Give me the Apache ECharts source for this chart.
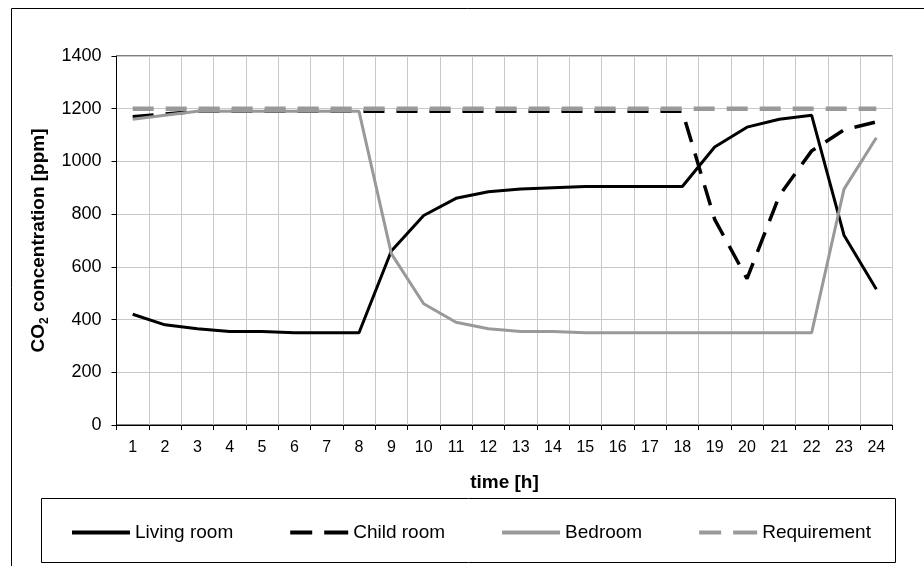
<!DOCTYPE html>
<html>
<head>
<meta charset="utf-8">
<script src="https://cdn.jsdelivr.net/npm/echarts@6/dist/echarts.min.js"></script>
<style>
html,body{margin:0;padding:0;background:#fff;}
#chart{width:924px;height:566px;}
</style>
</head>
<body>
<div id="chart"></div>
<script>
const hours = ['1','2','3','4','5','6','7','8','9','10','11','12','13','14','15','16','17','18','19','20','21','22','23','24'];
const livingRoom = [420,380,365,355,355,350,350,350,660,795,860,885,895,900,905,905,905,905,1055,1130,1160,1175,720,515];
const childRoom = [1170,1180,1190,1190,1190,1190,1190,1190,1190,1190,1190,1190,1190,1190,1190,1190,1190,1190,780,555,870,1040,1120,1150];
const bedroom = [1160,1175,1190,1190,1190,1190,1190,1190,650,460,390,365,355,355,350,350,350,350,350,350,350,350,895,1090];
const requirement = [1200,1200,1200,1200,1200,1200,1200,1200,1200,1200,1200,1200,1200,1200,1200,1200,1200,1200,1200,1200,1200,1200,1200,1200];
const yTicks = {min: 0, max: 1400, interval: 200};

const FONT = 'Liberation Sans, Arial, sans-serif';
const BLACK = '#000000';
const GRAY = '#999999';
const SOLID_ICON = 'path://M0,0h58v4h-58z';
const DASH_ICON = 'path://M0,0h22v4h-22z M34,0h24v4h-24z';

const chart = echarts.init(document.getElementById('chart'), null, {renderer: 'canvas'});
chart.setOption({
  animation: false,
  backgroundColor: '#ffffff',
  textStyle: {fontFamily: FONT, color: BLACK},
  graphic: [
    {type: 'line', shape: {x1: 11.5, y1: 8.5, x2: 924, y2: 8.5}, style: {stroke: BLACK, lineWidth: 1}, z: 0},
    {type: 'line', shape: {x1: 11.5, y1: 8.5, x2: 11.5, y2: 566}, style: {stroke: BLACK, lineWidth: 1}, z: 0},
    {type: 'rect', shape: {x: 41.5, y: 498.5, width: 854, height: 64}, style: {fill: 'none', stroke: BLACK, lineWidth: 1}, z: 0}
  ],
  grid: {left: 116.5, right: 31.5, top: 56, bottom: 141, show: true, borderColor: BLACK, borderWidth: 1, backgroundColor: 'transparent'},
  legend: {
    left: 72, top: 523, padding: 0, itemWidth: 58, itemHeight: 4, itemGap: 57,
    textStyle: {fontSize: 19, color: BLACK, fontFamily: FONT},
    data: [
      {name: 'Living room', icon: SOLID_ICON},
      {name: 'Child room', icon: DASH_ICON},
      {name: 'Bedroom', icon: SOLID_ICON},
      {name: 'Requirement', icon: DASH_ICON}
    ]
  },
  xAxis: {
    type: 'category', data: hours, boundaryGap: true,
    axisLine: {lineStyle: {color: BLACK, width: 1}},
    axisTick: {show: true, length: 5, interval: 0, alignWithLabel: false, lineStyle: {color: BLACK}},
    axisLabel: {interval: 0, fontSize: 16, color: BLACK, margin: 15, fontFamily: FONT},
    splitLine: {show: true, interval: 0, lineStyle: {color: '#c8c8c8', width: 1}},
    name: 'time [h]', nameLocation: 'middle', nameGap: 48,
    nameTextStyle: {fontSize: 19, fontWeight: 'bold', color: BLACK, fontFamily: FONT}
  },
  yAxis: {
    type: 'value', min: yTicks.min, max: yTicks.max, interval: yTicks.interval,
    axisLine: {show: true, lineStyle: {color: BLACK, width: 1}},
    axisTick: {show: true, length: 5, lineStyle: {color: BLACK}},
    axisLabel: {fontSize: 18, color: BLACK, margin: 15, fontFamily: FONT, formatter: function (v) { return String(v); }},
    splitLine: {show: true, lineStyle: {color: '#c8c8c8', width: 1}},
    name: '{a|CO}{s|2}{a| concentration [ppm]}', nameLocation: 'middle', nameGap: 68, nameRotate: 90,
    nameTextStyle: {
      fontFamily: FONT, color: BLACK,
      rich: {
        a: {fontSize: 19, fontWeight: 'bold', fontFamily: FONT, color: BLACK, verticalAlign: 'bottom'},
        s: {fontSize: 12, fontWeight: 'bold', fontFamily: FONT, color: BLACK, verticalAlign: 'bottom', padding: [0,0,-2,0]}
      }
    }
  },
  series: [
    {name: 'Living room', type: 'line', data: livingRoom, symbol: 'none', lineStyle: {color: BLACK, width: 3}, itemStyle: {color: BLACK}},
    {name: 'Child room', type: 'line', data: childRoom, symbol: 'none', lineStyle: {color: BLACK, width: 3.5, type: [21, 12]}, itemStyle: {color: BLACK}},
    {name: 'Bedroom', type: 'line', data: bedroom, symbol: 'none', lineStyle: {color: GRAY, width: 3}, itemStyle: {color: GRAY}},
    {name: 'Requirement', type: 'line', data: requirement, symbol: 'none', lineStyle: {color: GRAY, width: 4.5, type: [21, 12]}, itemStyle: {color: GRAY}}
  ]
});
</script>
</body>
</html>
